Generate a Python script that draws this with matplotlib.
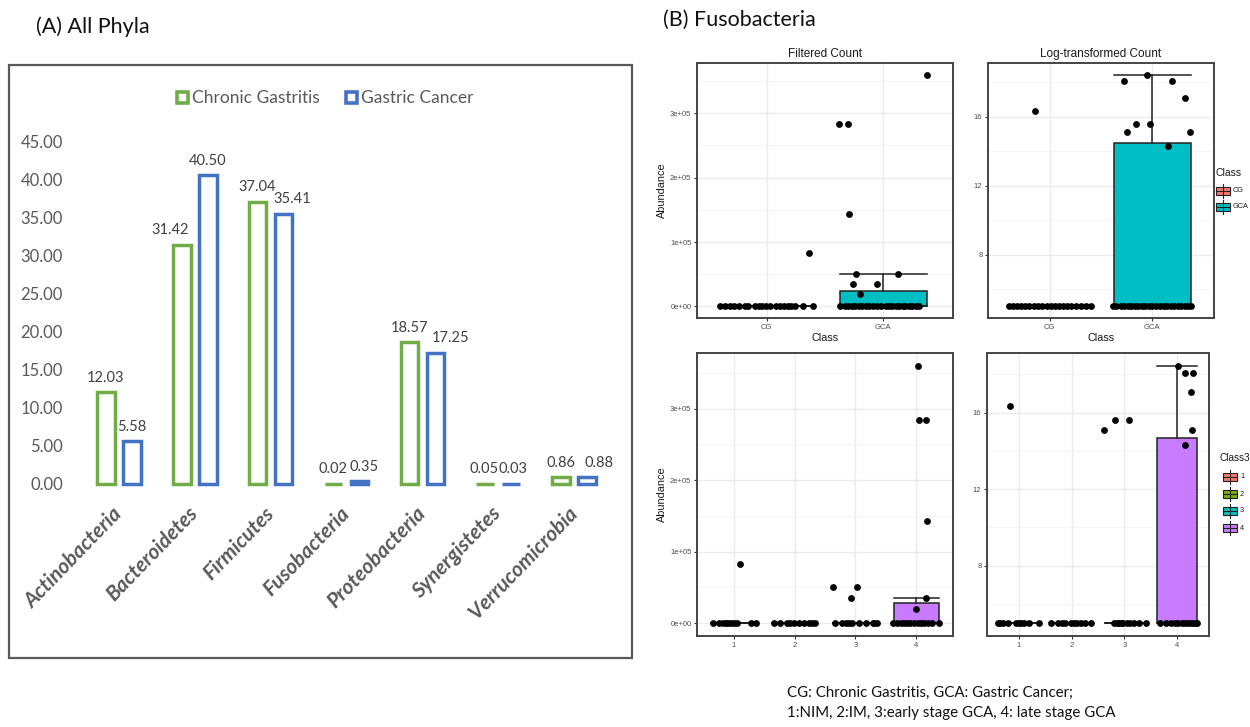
import numpy as np
import matplotlib
matplotlib.use("Agg")
import matplotlib.pyplot as plt
from matplotlib.patches import Rectangle
from matplotlib.ticker import FixedLocator

W, H = 1250, 727

# ---------------- (A) mean relative abundance of phyla (%) ----------------
phyla = ["Actinobacteria", "Bacteroidetes", "Firmicutes", "Fusobacteria",
         "Proteobacteria", "Synergistetes", "Verrucomicrobia"]
chronic_gastritis = [12.03, 31.42, 37.04, 0.02, 18.57, 0.05, 0.86]
gastric_cancer = [5.58, 40.50, 35.41, 0.35, 17.25, 0.03, 0.88]
a_ticks = [0, 5, 10, 15, 20, 25, 30, 35, 40, 45]

# ---------------- (B) Fusobacteria per sample ----------------
# filtered counts, CG vs GCA
cg_count = [0, 0, 0, 0, 0, 0, 0, 0, 0, 0, 0, 0, 0, 0, 0, 0, 0, 0, 0, 0, 83000]
gca_count = [0, 0, 0, 0, 0, 0, 0, 0, 0, 0, 0, 0, 0, 0, 0, 0, 0, 0, 0, 0, 0, 0, 0,
             20000, 35000, 35000, 51000, 51000, 143000, 284000, 284000, 360000]
# log-transformed counts, CG vs GCA
cg_log = [5.0, 5.0, 5.0, 5.0, 5.0, 5.0, 5.0, 5.0, 5.0, 5.0,
          5.0, 5.0, 5.0, 5.0, 5.0, 5.0, 5.0, 5.0, 5.0, 5.0, 16.35]
gca_log = [5.0, 5.0, 5.0, 5.0, 5.0, 5.0, 5.0, 5.0, 5.0, 5.0, 5.0, 5.0,
           5.0, 5.0, 5.0, 5.0, 5.0, 5.0, 5.0, 5.0, 5.0, 5.0, 5.0,
           14.3, 15.1, 15.1, 15.6, 15.6, 17.1, 18.1, 18.1, 18.45]
# filtered counts by stage (1:NIM, 2:IM, 3:early GCA, 4:late GCA)
s1_count = [0, 0, 0, 0, 0, 0, 0, 0, 0, 0, 83000]
s2_count = [0, 0, 0, 0, 0, 0, 0, 0, 0, 0]
s3_count = [0, 0, 0, 0, 0, 0, 0, 0, 0, 0, 35000, 51000, 51000]
s4_count = [0, 0, 0, 0, 0, 0, 0, 0, 0, 0, 0, 0, 0,
            20000, 35000, 143000, 284000, 284000, 360000]
# log-transformed counts by stage
s1_log = [5.0, 5.0, 5.0, 5.0, 5.0, 5.0, 5.0, 5.0, 5.0, 5.0, 16.35]
s2_log = [5.0, 5.0, 5.0, 5.0, 5.0, 5.0, 5.0, 5.0, 5.0, 5.0]
s3_log = [5.0, 5.0, 5.0, 5.0, 5.0, 5.0, 5.0, 5.0, 5.0, 5.0, 15.1, 15.6, 15.6]
s4_log = [5.0, 5.0, 5.0, 5.0, 5.0, 5.0, 5.0, 5.0, 5.0, 5.0, 5.0, 5.0, 5.0,
          14.3, 15.1, 17.1, 18.1, 18.1, 18.45]

# horizontal jitter of each point (category units)
tl_jit = [
    [-0.40, -0.36, -0.32, -0.28, -0.24, -0.19, -0.16, -0.10, -0.07, -0.04,
     -0.01, 0.03, 0.08, 0.11, 0.15, 0.18, 0.21, 0.24, 0.31, 0.40, 0.36],
    [-0.37, -0.33, -0.30, -0.27, -0.24, -0.21, -0.18, -0.15, -0.12, -0.09, -0.05, -0.02,
     0.02, 0.05, 0.08, 0.11, 0.14, 0.17, 0.19, 0.22, 0.25, 0.28, 0.31,
     -0.20, -0.26, -0.05, -0.23, 0.13, -0.29, -0.38, -0.30, 0.38],
]
tr_jit = [
    [-0.40, -0.36, -0.32, -0.28, -0.24, -0.20, -0.15, -0.11, -0.07, -0.03,
     0.01, 0.05, 0.09, 0.13, 0.17, 0.21, 0.26, 0.31, 0.35, 0.40, -0.14],
    [-0.38, -0.35, -0.31, -0.28, -0.24, -0.21, -0.17, -0.14, -0.10, -0.07, -0.03, 0.00,
     0.04, 0.07, 0.11, 0.14, 0.18, 0.21, 0.25, 0.28, 0.32, 0.35, 0.38,
     0.15, -0.25, 0.37, -0.16, -0.02, 0.32, -0.28, 0.19, -0.05],
]
bl_jit = [
    [-0.34, -0.24, -0.18, -0.13, -0.09, -0.05, 0.01, 0.06, 0.28, 0.37, 0.11],
    [-0.34, -0.24, -0.12, -0.07, -0.01, 0.07, 0.15, 0.23, 0.29, 0.34],
    [-0.34, -0.22, -0.15, -0.10, -0.05, 0.05, 0.18, 0.28, 0.31, 0.35, -0.07, -0.37, 0.02],
    [-0.38, -0.32, -0.26, -0.20, -0.15, -0.10, -0.04, 0.02, 0.08, 0.13, 0.19, 0.25, 0.37,
     0.00, 0.16, 0.18, 0.05, 0.16, 0.02],
]
br_jit = [
    [-0.40, -0.35, -0.30, -0.20, -0.06, 0.00, 0.05, 0.10, 0.20, 0.38, -0.17],
    [-0.38, -0.25, -0.18, -0.12, -0.02, 0.04, 0.10, 0.18, 0.25, 0.37],
    [-0.20, -0.15, -0.11, -0.07, -0.02, 0.04, 0.10, 0.18, 0.28, 0.40, -0.38, -0.17, 0.08],
    [-0.32, -0.22, -0.12, -0.05, 0.02, 0.08, 0.13, 0.19, 0.24, 0.29, 0.33, 0.35, 0.37,
     0.15, 0.28, 0.26, 0.15, 0.30, 0.02],
]

GREEN = "#70AD47"
BLUE = "#4472C4"
HUE2 = ["#F8766D", "#00BFC4"]
HUE4 = ["#F8766D", "#7CAE00", "#00BFC4", "#C77CFF"]
GG_FONT = "Liberation Sans"

plt.rcParams["font.family"] = ["Lato", "DejaVu Sans"]

fig = plt.figure(figsize=(W / 100, H / 100), dpi=100)


def px_axes(x0, y0, x1, y1):
    return fig.add_axes([x0 / W, 1 - y1 / H, (x1 - x0) / W, (y1 - y0) / H])


# ---------- panel A: grouped outline bars ----------
axA = px_axes(81, 141, 612, 484)
x = np.arange(len(phyla))
half, barw = 0.1715, 0.233
axA.bar(x - half, chronic_gastritis, barw, facecolor="white", edgecolor=GREEN,
        linewidth=2.5, clip_on=False)
axA.bar(x + half, gastric_cancer, barw, facecolor="white", edgecolor=BLUE,
        linewidth=2.5, clip_on=False)

# data labels (small sideways nudges keep neighbours from colliding)
cg_nudge = [0, -8, 0, 0, 0, -1, 0]
gc_nudge = [0, 0, 6.5, 3.5, 11, 1, 8.5]
for xi, v, dx in zip(x - half, chronic_gastritis, cg_nudge):
    axA.annotate(f"{v:.2f}", (xi, v), xytext=(dx, 5.5), textcoords="offset points",
                 ha="center", va="bottom", fontsize=10.5, color="#404040")
for xi, v, dx in zip(x + half, gastric_cancer, gc_nudge):
    axA.annotate(f"{v:.2f}", (xi, v), xytext=(dx, 5.5), textcoords="offset points",
                 ha="center", va="bottom", fontsize=10.5, color="#404040")

axA.set_xlim(-0.5, 6.5)
axA.set_ylim(0, 45)
axA.set_yticks(a_ticks)
axA.set_yticklabels([f"{v:.2f}" for v in a_ticks])
axA.tick_params(axis="y", length=0, pad=13, labelsize=12, labelcolor="#595959")
axA.set_xticks(x)
axA.set_xticklabels(phyla, rotation=46, ha="right", va="center", rotation_mode="anchor",
                    fontsize=15, fontstyle="italic", fontweight="bold", color="#595959")
axA.tick_params(axis="x", length=0, pad=19)
for sp in axA.spines.values():
    sp.set_visible(False)
axA.patch.set_alpha(0)


# ---------- panel B: ggplot-style box + jitter panels ----------
def box_panel(ax, groups, jitters, colors, names, yticks, ylabels, yminor):
    pos = np.arange(1, len(groups) + 1)
    lw = 1.1
    bp = ax.boxplot(groups, positions=pos, widths=0.75, capwidths=0.75, whis=1.5,
                    showfliers=False, patch_artist=True,
                    boxprops=dict(edgecolor="#222222", linewidth=lw),
                    medianprops=dict(color="#222222", linewidth=lw),
                    whiskerprops=dict(color="#222222", linewidth=lw),
                    capprops=dict(color="#222222", linewidth=lw), zorder=2)
    for patch, c in zip(bp["boxes"], colors):
        patch.set_facecolor(c)
    for p, vals, jit in zip(pos, groups, jitters):
        ax.scatter(p + np.array(jit), vals, s=24, color="black", linewidths=0, zorder=3)

    allv = np.concatenate([np.asarray(g, float) for g in groups])
    lo, hi = allv.min(), allv.max()
    pad = 0.05 * (hi - lo)
    ax.set_ylim(lo - pad, hi + pad)
    ax.set_xlim(0.4, len(groups) + 0.6)
    ax.set_xticks(pos)
    ax.set_xticklabels(names)
    ax.set_yticks(yticks)
    ax.set_yticklabels(ylabels)
    ax.yaxis.set_minor_locator(FixedLocator(yminor))
    ax.grid(True, which="major", color="#EBEBEB", linewidth=1.0)
    ax.grid(True, which="minor", axis="y", color="#F3F3F3", linewidth=0.6)
    ax.set_axisbelow(True)
    ax.tick_params(which="major", length=2.5, width=0.8, color="#333333",
                   labelsize=5.5, labelcolor="#4D4D4D", pad=1.5)
    ax.tick_params(which="minor", length=0)
    for lab in ax.get_xticklabels() + ax.get_yticklabels():
        lab.set_fontfamily(GG_FONT)
    for sp in ax.spines.values():
        sp.set_color("#444444")
        sp.set_linewidth(1.4)


count_ticks = [0, 100000, 200000, 300000]
count_labels = ["0e+00", "1e+05", "2e+05", "3e+05"]
count_minor = [50000, 150000, 250000, 350000]
log_ticks = [8, 12, 16]
log_minor = [6, 10, 14, 18]
TXT = dict(family=GG_FONT, color="#1A1A1A")

ax_tl = px_axes(697, 63, 953, 318)
box_panel(ax_tl, [cg_count, gca_count], tl_jit, HUE2, ["CG", "GCA"],
          count_ticks, count_labels, count_minor)
ax_tl.set_title("Filtered Count", fontsize=8.5, pad=4, **TXT)
ax_tl.set_xlabel("Class", fontsize=7.8, labelpad=2, **TXT)
ax_tl.set_ylabel("Abundance", fontsize=7.8, labelpad=2, **TXT)

ax_tr = px_axes(988, 63, 1214, 318)
box_panel(ax_tr, [cg_log, gca_log], tr_jit, HUE2, ["CG", "GCA"],
          log_ticks, [str(t) for t in log_ticks], log_minor)
ax_tr.set_title("Log-transformed Count", fontsize=8.5, pad=4, **TXT)
ax_tr.set_xlabel("Class", fontsize=7.8, labelpad=2, **TXT)

ax_bl = px_axes(697, 353, 953, 636)
box_panel(ax_bl, [s1_count, s2_count, s3_count, s4_count], bl_jit, HUE4,
          ["1", "2", "3", "4"], count_ticks, count_labels, count_minor)
ax_bl.set_ylabel("Abundance", fontsize=7.8, labelpad=2, **TXT)

ax_br = px_axes(987, 353, 1209, 636)
box_panel(ax_br, [s1_log, s2_log, s3_log, s4_log], br_jit, HUE4,
          ["1", "2", "3", "4"], log_ticks, [str(t) for t in log_ticks], log_minor)

# ---------- overlay in pixel coordinates: frame, titles, legends, notes ----------
ov = fig.add_axes([0, 0, 1, 1])
ov.set_xlim(0, W)
ov.set_ylim(H, 0)
ov.axis("off")
ov.patch.set_alpha(0)

ov.add_patch(Rectangle((9, 65), 623, 593, fill=False, edgecolor="#5A5A5A", linewidth=1.6))
ov.text(36, 27, "(A) All Phyla", fontsize=15.5, va="center", ha="left", color="#111111")
ov.text(663, 20, "(B) Fusobacteria", fontsize=15.5, va="center", ha="left", color="#111111")

# legend of panel A
for x0, col, lab in [(177, GREEN, "Chronic Gastritis"), (346, BLUE, "Gastric Cancer")]:
    ov.add_patch(Rectangle((x0, 92), 11, 11, fill=False, edgecolor=col, linewidth=2.6))
    ov.text(x0 + 15, 98, lab, fontsize=12.5, va="center", ha="left", color="#595959")


def box_key(x0, yc, col, lab):
    ov.plot([x0 + 7, x0 + 7], [yc - 7, yc + 7], color="#222222", lw=0.8)
    ov.add_patch(Rectangle((x0, yc - 4), 14, 8, facecolor=col, edgecolor="#222222", lw=0.8))
    ov.plot([x0, x0 + 14], [yc, yc], color="#222222", lw=0.8)
    ov.text(x0 + 17, yc, lab, fontsize=5.3, va="center", ha="left", **TXT)


# legends squeezed against the right edge of the figure
ov.text(1216, 173, "Class", fontsize=7.5, va="center", ha="left", **TXT)
for yc, col, lab in zip([191, 207], HUE2, ["CG", "GCA"]):
    box_key(1216, yc, col, lab)

ov.text(1220, 458, "Class3", fontsize=7.2, va="center", ha="left", **TXT)
for yc, col, lab in zip([477, 494, 511, 528], HUE4, ["1", "2", "3", "4"]):
    box_key(1223, yc, col, lab)

ov.text(787, 693, "CG: Chronic Gastritis, GCA: Gastric Cancer;", fontsize=10.8,
        va="center", ha="left", color="#111111")
ov.text(787, 713, "1:NIM, 2:IM, 3:early stage GCA, 4: late stage GCA", fontsize=10.8,
        va="center", ha="left", color="#111111")

fig.savefig("out.png", dpi=100, facecolor="white")
